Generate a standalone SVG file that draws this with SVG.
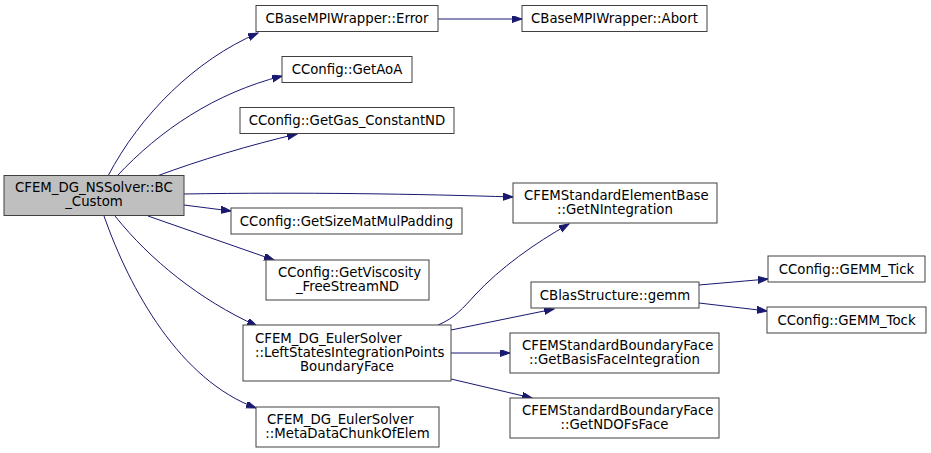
<svg xmlns="http://www.w3.org/2000/svg" width="931" height="453" viewBox="0 0 931 453">
<style>
.n rect{fill:#ffffff;stroke:#404040;stroke-width:1}
.n.main rect{fill:#bfbfbf}
.n text{font-family:"DejaVu Sans",sans-serif;font-size:13.3px;fill:#000}
.m{text-anchor:middle}
.e path{fill:none;stroke:#191970;stroke-width:1;marker-end:url(#ah)}
</style>
<defs>
<marker id="ah" markerUnits="userSpaceOnUse" markerWidth="11" markerHeight="8" refX="10" refY="3.5" orient="auto" viewBox="0 0 11 8">
<path d="M0,0 L10,3.5 L0,7 z" fill="#191970" stroke="#191970"/>
</marker>
</defs>
<rect width="931" height="453" fill="#ffffff"/>
<g id="edges" class="e">
<path d="M108,176 C140,115 195,60 258,33"/>
<path d="M117,176 C160,130 215,93 282,76"/>
<path d="M157,176 C200,160 250,145 297,134"/>
<path d="M184,194 C300,192 420,194 513,197"/>
<path d="M184,205 L231,211"/>
<path d="M148,216 L274,260"/>
<path d="M115,216 C150,260 200,300 257,326"/>
<path d="M104,216 C130,290 180,380 256,408"/>
<path d="M438,19 L522,19"/>
<path d="M438,325 C455,318 463,308 475,295 C500,268 535,243 569,224"/>
<path d="M451,330 L554,309"/>
<path d="M451,353 L510,353"/>
<path d="M451,379 L532,398"/>
<path d="M699,285 L768,279"/>
<path d="M699,303 L767,311"/>
</g>
<g id="node_main" class="n main">
<rect x="4" y="175.5" width="180" height="40"/>
<text x="15" y="191.5">CFEM_DG_NSSolver::BC</text>
<text x="94" y="205.5" class="m">_Custom</text>
</g>
<g id="node_error" class="n">
<rect x="256" y="5.5" width="182" height="26"/>
<text x="347" y="23" class="m">CBaseMPIWrapper::Error</text>
</g>
<g id="node_abort" class="n">
<rect x="522" y="5.5" width="185" height="26"/>
<text x="614.5" y="23" class="m">CBaseMPIWrapper::Abort</text>
</g>
<g id="node_aoa" class="n">
<rect x="282" y="56.5" width="130" height="26"/>
<text x="347" y="74" class="m">CConfig::GetAoA</text>
</g>
<g id="node_gas" class="n">
<rect x="240" y="107.5" width="214" height="26"/>
<text x="347" y="125" class="m">CConfig::GetGas_ConstantND</text>
</g>
<g id="node_nint" class="n">
<rect x="513" y="183" width="204" height="40"/>
<text x="524" y="199.5">CFEMStandardElementBase</text>
<text x="615" y="213.5" class="m">::GetNIntegration</text>
</g>
<g id="node_pad" class="n">
<rect x="231" y="208" width="231" height="26"/>
<text x="346.5" y="225.5" class="m">CConfig::GetSizeMatMulPadding</text>
</g>
<g id="node_visc" class="n">
<rect x="266" y="260" width="163" height="40"/>
<text x="278" y="276.5">CConfig::GetViscosity</text>
<text x="347.5" y="290.5" class="m">_FreeStreamND</text>
</g>
<g id="node_gemm" class="n">
<rect x="531" y="282" width="168" height="26"/>
<text x="615" y="299.5" class="m">CBlasStructure::gemm</text>
</g>
<g id="node_tick" class="n">
<rect x="768" y="256" width="157" height="26"/>
<text x="846.5" y="273.5" class="m">CConfig::GEMM_Tick</text>
</g>
<g id="node_tock" class="n">
<rect x="767" y="307" width="159" height="26"/>
<text x="846.5" y="324.5" class="m">CConfig::GEMM_Tock</text>
</g>
<g id="node_left" class="n">
<rect x="243" y="325" width="208" height="56"/>
<text x="255" y="342.5">CFEM_DG_EulerSolver</text>
<text x="255" y="356.5">::LeftStatesIntegrationPoints</text>
<text x="347" y="370.5" class="m">BoundaryFace</text>
</g>
<g id="node_basis" class="n">
<rect x="510" y="333" width="209" height="40"/>
<text x="522" y="349.5">CFEMStandardBoundaryFace</text>
<text x="614.5" y="363.5" class="m">::GetBasisFaceIntegration</text>
</g>
<g id="node_ndofs" class="n">
<rect x="510" y="398" width="209" height="40"/>
<text x="522" y="414.5">CFEMStandardBoundaryFace</text>
<text x="614.5" y="428.5" class="m">::GetNDOFsFace</text>
</g>
<g id="node_meta" class="n">
<rect x="256" y="407" width="183" height="40"/>
<text x="267" y="423.5">CFEM_DG_EulerSolver</text>
<text x="347.5" y="437.5" class="m">::MetaDataChunkOfElem</text>
</g>
</svg>
